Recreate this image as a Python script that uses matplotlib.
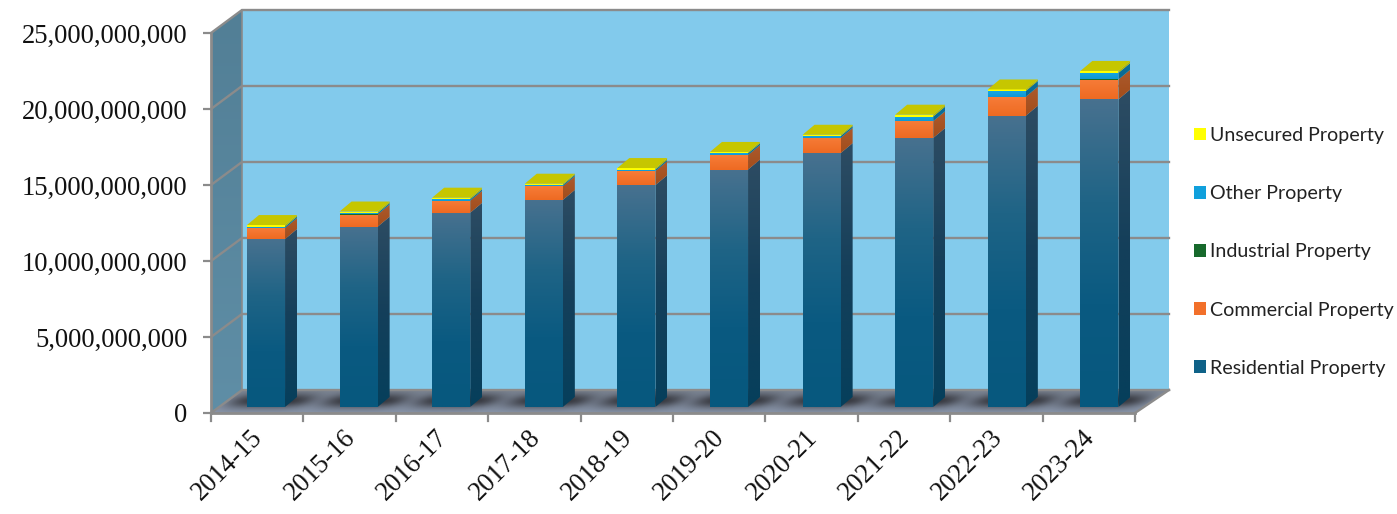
import numpy as np
import matplotlib
matplotlib.use("Agg")
import matplotlib.pyplot as plt
from matplotlib.colors import to_rgb
from matplotlib.patches import Polygon
from matplotlib.transforms import Affine2D, IdentityTransform
from matplotlib.ticker import FuncFormatter

years = ["2014-15", "2015-16", "2016-17", "2017-18", "2018-19",
         "2019-20", "2020-21", "2021-22", "2022-23", "2023-24"]
residential = [11.05e9, 11.86e9, 12.78e9, 13.62e9, 14.60e9, 15.62e9, 16.70e9, 17.70e9, 19.16e9, 20.24e9]
commercial = [0.72e9, 0.80e9, 0.79e9, 0.90e9, 0.92e9, 0.95e9, 1.00e9, 1.10e9, 1.25e9, 1.30e9]
industrial = [0.01e9, 0.01e9, 0.01e9, 0.01e9, 0.01e9, 0.01e9, 0.01e9, 0.01e9, 0.01e9, 0.01e9]
other = [0.09e9, 0.09e9, 0.09e9, 0.08e9, 0.09e9, 0.11e9, 0.11e9, 0.30e9, 0.37e9, 0.43e9]
unsecured = [0.10e9, 0.10e9, 0.10e9, 0.08e9, 0.10e9, 0.09e9, 0.09e9, 0.12e9, 0.10e9, 0.13e9]
y_ticks = [0, 5e9, 10e9, 15e9, 20e9, 25e9]

names = ["Residential Property", "Commercial Property", "Industrial Property", "Other Property", "Unsecured Property"]
series = [residential, commercial, industrial, other, unsecured]
flat = ["#0f6288", "#f2702a", "#17692c", "#10a0dc", "#ffff00"]
front_stops = [["#47718f", "#1f6486", "#0a5a81", "#07587e"], ["#f67c38", "#ee6a22"], ["#1b7a33", "#145f27"],
               ["#16a6e2", "#0f98d4"], ["#ffff00", "#ffff00"]]
side_stops = [["#2d4c63", "#143f5a", "#063f5c"], ["#ab5a2e", "#a34d1a"], ["#124f22", "#0e4019"],
              ["#0c6f9a", "#0a6a94"], ["#b5b500", "#b5b500"]]
CAP = "#c6c600"
EDGE = "#8b8b8b"
H = 514

plt.rcParams["font.family"] = ["Liberation Serif", "DejaVu Sans"]
fig = plt.figure(figsize=(13.97, 5.14), dpi=100)
ax = fig.add_axes([211 / 1397, (H - 413) / H, (1135 - 211) / 1397, 380 / H])
ax.set_facecolor("none")
ax.set_xlim(-0.5, 9.5)
ax.set_ylim(0, 25e9)
ax.set_autoscale_on(False)


def d(px, py):
    return (px, H - py)


def gradient(verts, stops, z):
    vs = np.array(verts, float)
    x0, x1 = vs[:, 0].min(), vs[:, 0].max()
    y0, y1 = vs[:, 1].min(), vs[:, 1].max()
    cols = np.array([to_rgb(c) for c in stops])
    t = np.linspace(0, 1, 64)
    pos = np.linspace(0, 1, len(stops))
    arr = np.stack([np.interp(t, pos, cols[:, k]) for k in range(3)], axis=1)[:, None, :]
    im = ax.imshow(arr, extent=(x0, x1, y0, y1), origin="upper", aspect="auto",
                   transform=IdentityTransform(), zorder=z, interpolation="bilinear")
    clip = Polygon(vs, closed=True, transform=IdentityTransform())
    im.set_clip_box(fig.bbox)
    im.set_clip_path(clip)
    return im


def poly(verts, z, **kw):
    p = Polygon(verts, closed=True, transform=IdentityTransform(), zorder=z, clip_on=False, **kw)
    ax.add_patch(p)
    return p


# walls and floor
gradient([d(242, 10), d(1169, 10), d(1169, 390), d(242, 390)], ["#82caec", "#84cced"], 1)
gradient([d(211, 33), d(242, 10), d(242, 390), d(211, 413)], ["#527f96", "#5f8ea6"], 1)
gradient([d(211, 413), d(242, 390), d(1169, 390), d(1135, 413)], ["#808a98", "#8b97ab", "#8a96aa"], 1.2)

# gridlines on the back and side walls
for v in y_ticks:
    _, yd = ax.transData.transform((0, v))
    ax.plot([211, 242, 1169], [yd, yd + 23, yd + 23], transform=IdentityTransform(),
            color=EDGE, lw=1.7, zorder=1.5, clip_on=False, solid_joinstyle="miter")
ax.plot([242, 242], [H - 10, H - 390], transform=IdentityTransform(), color=EDGE, lw=1.2, zorder=1.6, clip_on=False)
ax.plot([1135, 1169], [H - 413, H - 390], transform=IdentityTransform(), color=EDGE, lw=1.7, zorder=1.6, clip_on=False)

# bars sit in the middle of the floor depth
bar_tf = ax.transData + Affine2D().translate(-257.2, 0).scale(92.6 / 92.4, 1).translate(266, 6)
x = np.arange(len(years))
W = 38 / 92.4
DX, DY = 12, 10
bottom = np.zeros(len(years))

# floor shadows
yy, xx = np.mgrid[0:60, 0:200]
for xc in x:
    cx, cy = bar_tf.transform((xc, 0))
    gx = xx - 100 + (yy - 30) * 1.2
    gy = yy - 30
    alpha = 0.9 * np.exp(-(np.abs(gx) / 42) ** 4 - (gy / 7.5) ** 2)
    rgba = np.zeros(alpha.shape + (4,))
    rgba[..., :3] = to_rgb("#2b2b30")
    rgba[..., 3] = alpha
    im = ax.imshow(rgba, extent=(cx + 6 - 100, cx + 6 + 100, cy + 7 - 30, cy + 7 + 30), origin="upper",
                   aspect="auto", transform=IdentityTransform(), zorder=1.4, interpolation="bilinear")
    im.set_clip_box(fig.bbox)
    im.set_clip_path(Polygon([d(211, 413), d(242, 390), d(1169, 390), d(1135, 413)], closed=True,
                             transform=IdentityTransform()))

handles = []
for name, vals, fc, fs, ss in zip(names, series, flat, front_stops, side_stops):
    vals = np.array(vals)
    bars = ax.bar(x, vals, bottom=bottom, width=W, color=fc, transform=bar_tf, zorder=3, label=name,
                  clip_on=False, linewidth=0)
    handles.append(bars)
    for xc, b, v in zip(x, bottom, vals):
        (xl, yb) = bar_tf.transform((xc - W / 2, b))
        (xr, yt) = bar_tf.transform((xc + W / 2, b + v))
        gradient([(xl, yb), (xr, yb), (xr, yt), (xl, yt)], fs, 3.1)
        gradient([(xr, yb), (xr + DX, yb + DY), (xr + DX, yt + DY), (xr, yt)], ss, 3.1)
    bottom = bottom + vals

for xc, t in zip(x, bottom):
    (xl, yt) = bar_tf.transform((xc - W / 2, t))
    (xr, _) = bar_tf.transform((xc + W / 2, t))
    poly([(xl, yt), (xr, yt), (xr + DX, yt + DY), (xl + DX, yt + DY)], 3.2, facecolor=CAP, edgecolor="none")

# axes
for s in ("top", "right"):
    ax.spines[s].set_visible(False)
for s in ("left", "bottom"):
    ax.spines[s].set_color(EDGE)
    ax.spines[s].set_linewidth(2.0)
    ax.spines[s].set_zorder(4)
ax.set_yticks(y_ticks)
ax.yaxis.set_major_formatter(FuncFormatter(lambda v, _: f"{int(v):,}"))
ax.set_xticks(x)
ax.set_xticklabels(years, rotation=45, ha="right", va="center", rotation_mode="anchor", fontsize=19.2, color="#111111")
ax.tick_params(axis="y", length=6, width=1.6, color=EDGE, labelsize=19.2, labelcolor="#111111", pad=11)
ax.tick_params(axis="x", which="major", length=0, pad=15)
for lab in ax.get_xticklabels():
    lab.set_transform(lab.get_transform() + Affine2D().translate(2, 0))
# category boundaries carry the tick marks
for i in range(len(years) + 1):
    ax.plot([i - 0.5, i - 0.5], [0, -8 / 380 * 25e9], color=EDGE, lw=1.6, clip_on=False, zorder=4)

leg_handles = [h for h in handles[::-1]]
leg = fig.legend(leg_handles, names[::-1], loc="upper left", bbox_to_anchor=(1194 / 1397, 1 - 127 / H),
                 frameon=False, prop={"family": "Lato", "size": 14.15}, labelspacing=2.095, handlelength=0.62,
                 handleheight=0.62, handletextpad=0.2, borderpad=0, borderaxespad=0)
for t in leg.get_texts():
    t.set_color("#222222")

fig.savefig("out.png", dpi=100)
